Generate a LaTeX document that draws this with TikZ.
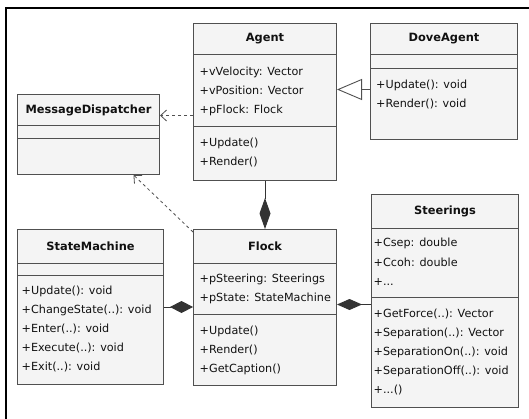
\documentclass[tikz,border=0pt]{standalone}
\usepackage{fontspec}
\setmainfont{DejaVu Sans}
\usetikzlibrary{arrows.meta}
\definecolor{boxfill}{HTML}{F4F4F4}
\definecolor{boxline}{HTML}{505050}
\definecolor{ink}{HTML}{111111}

% horizontal compartment divider, #2 points below the top edge of class #1
\newcommand\compsep[2]{\draw[sepline] ([yshift=-#2pt]#1.north west) -- ([yshift=-#2pt]#1.north east);}

\begin{document}
\begin{tikzpicture}[x=1pt,y=-1pt,
  cls/.style={draw=boxline, fill=boxfill, line width=1pt, anchor=north west, inner sep=0pt},
  sepline/.style={draw=boxline, line width=1pt},
  title/.style={font=\fontsize{11.4}{13}\selectfont\bfseries, text=ink, inner sep=0pt},
  row/.style={font=\fontsize{11.2}{13}\selectfont, text=ink, anchor=west, inner sep=0pt, text height=8pt, text depth=0pt},
  frameline/.style={draw=black, line width=1.8pt},
  dep/.style={draw=boxline, line width=0.8pt, dash pattern=on 3pt off 3pt,
    -{Straight Barb[length=6pt,width=11pt]}},
  gen/.style={draw=boxline, line width=0.9pt,
    -{Triangle[open, fill=white, length=25pt, width=21pt]}},
  comp/.style={draw=black!80, line width=1pt}
]
\useasboundingbox (0,0) rectangle (529,419);
\fill[white] (0,0) rectangle (529,419);
\draw[frameline] (6,419) -- (6,8) -- (529,8);

% ---- classes ----
\node[cls, minimum width=143pt, minimum height=157pt] (agent) at (193,23) {};
\compsep{agent}{32}\compsep{agent}{104}
\node[title] (agent-t) at ([yshift=-16pt]agent.north) {Agent};
\node[row] (agent-a1) at (199.5,72) {+vVelocity: Vector};
\node[row] (agent-a2) at (199.5,91) {+vPosition: Vector};
\node[row] (agent-a3) at (199.5,110) {+pFlock: Flock};
\node[row] (agent-m1) at (199.5,143) {+Update()};
\node[row] (agent-m2) at (199.5,162) {+Render()};

\node[cls, minimum width=147pt, minimum height=116pt] (dove) at (370,23) {};
\compsep{dove}{32}\compsep{dove}{46}
\node[title] (dove-t) at ([yshift=-16pt]dove.north) {DoveAgent};
\node[row] (dove-m1) at (376,85) {+Update(): void};
\node[row] (dove-m2) at (376,104) {+Render(): void};

\node[cls, minimum width=142pt, minimum height=80pt] (md) at (17,94) {};
\compsep{md}{32}\compsep{md}{45}
\node[title] (md-t) at ([yshift=-16pt]md.north) {MessageDispatcher};

\node[cls, minimum width=146pt, minimum height=155pt] (sm) at (17,229) {};
\compsep{sm}{34}\compsep{sm}{46}
\node[title] (sm-t) at ([yshift=-17pt]sm.north) {StateMachine};
\node[row] (sm-m1) at (21.5,290) {+Update(): void};
\node[row] (sm-m2) at (21.5,309) {+ChangeState(..): void};
\node[row] (sm-m3) at (21.5,328) {+Enter(..): void};
\node[row] (sm-m4) at (21.5,347) {+Execute(..): void};
\node[row] (sm-m5) at (21.5,366) {+Exit(..): void};

\node[cls, minimum width=143pt, minimum height=156pt] (flock) at (193,229) {};
\compsep{flock}{34}\compsep{flock}{85}
\node[title] (flock-t) at ([yshift=-17pt]flock.north) {Flock};
\node[row] (flock-a1) at (199.5,278) {+pSteering: Steerings};
\node[row] (flock-a2) at (199.5,297) {+pState: StateMachine};
\node[row] (flock-m1) at (199.5,330) {+Update()};
\node[row] (flock-m2) at (199.5,349) {+Render()};
\node[row] (flock-m3) at (199.5,368) {+GetCaption()};

\node[cls, minimum width=147pt, minimum height=213pt] (steer) at (371,194) {};
\compsep{steer}{35}\compsep{steer}{103}
\node[title] (steer-t) at ([yshift=-17.5pt]steer.north) {Steerings};
\node[row] (steer-a1) at (373.5,243) {+Csep: double};
\node[row] (steer-a2) at (373.5,262) {+Ccoh: double};
\node[row] (steer-a3) at (373.5,281) {+...};
\node[row] (steer-m1) at (373.5,313) {+GetForce(..): Vector};
\node[row] (steer-m2) at (373.5,332) {+Separation(..): Vector};
\node[row] (steer-m3) at (373.5,351) {+SeparationOn(..): void};
\node[row] (steer-m4) at (373.5,370) {+SeparationOff(..): void};
\node[row] (steer-m5) at (373.5,389) {+...()};

% ---- relations ----
\draw[dep] ([yshift=-13.5pt]agent.west) -- ([yshift=-13.5pt]agent.west -| md.east);
\draw[dep] ([yshift=-3pt]flock.north west) -- ([xshift=45pt]md.south);
\draw[gen] ([yshift=-8pt]dove.west) -- ([yshift=-8pt]dove.west -| agent.east);
\draw[comp, -{Diamond[length=31pt,width=11pt]}] (agent.south) -- (flock.north);
\draw[comp, -{Diamond[length=23pt,width=12pt]}] (sm.east) -- (sm.east -| flock.west);
\draw[comp, -{Diamond[length=25pt,width=11pt]}] ([yshift=-3.5pt]steer.west) -- ([yshift=-3.5pt]steer.west -| flock.east);
\end{tikzpicture}
\end{document}
